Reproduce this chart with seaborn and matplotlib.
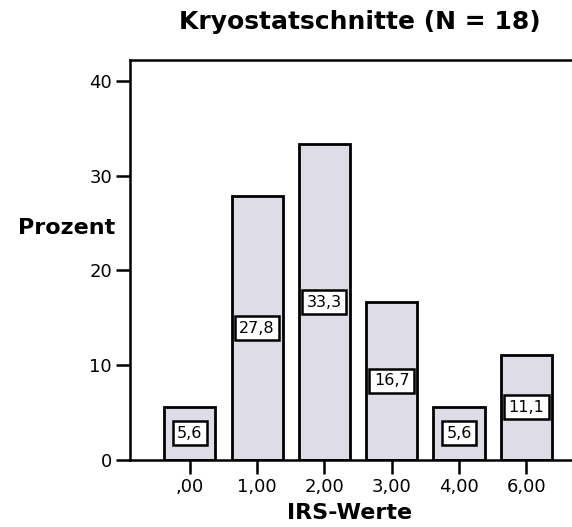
import matplotlib
matplotlib.use("Agg")
import matplotlib.pyplot as plt
import seaborn as sns
import pandas as pd

categories = [",00", "1,00", "2,00", "3,00", "4,00", "6,00"]
percent = [5.6, 27.8, 33.3, 16.7, 5.6, 11.1]
labels = ["5,6", "27,8", "33,3", "16,7", "5,6", "11,1"]
yticks = [0, 10, 20, 30, 40]

sns.set_theme(style="white")
plt.rcParams['font.family'] = ['DejaVu Sans']
plt.rcParams['text.color'] = 'black'
plt.rcParams['axes.labelcolor'] = 'black'
plt.rcParams['xtick.color'] = 'black'
plt.rcParams['ytick.color'] = 'black'

df = pd.DataFrame({"IRS": categories, "Prozent": percent})

fig = plt.figure(figsize=(5.72, 5.27), dpi=100)
ax = fig.add_axes([130/572, 1 - 460/527, 1 - 130/572, (460 - 60)/527])

sns.barplot(data=df, x="IRS", y="Prozent", ax=ax, color="#dddce7",
            saturation=1, width=0.76, edgecolor="black", linewidth=2)

for i, (v, t) in enumerate(zip(percent, labels)):
    ax.text(i, v / 2, t, ha="center", va="center", fontsize=11.5,
            bbox=dict(boxstyle="square,pad=0.28", facecolor="white",
                      edgecolor="black", linewidth=1.8))

ax.set_ylim(0, 42.2)
ax.set_xlim(-0.89, 5.68)
ax.set_yticks(yticks)
ax.set_yticklabels([str(y) for y in yticks])
ax.tick_params(axis="both", which="both", length=10, width=1.8, color="black",
               direction="out", left=True, bottom=True, pad=3, labelsize=13)
ax.tick_params(axis="x", pad=3)
for s in ["left", "top", "bottom"]:
    ax.spines[s].set_visible(True)
    ax.spines[s].set_color("black")
    ax.spines[s].set_linewidth(1.8)
ax.spines["right"].set_visible(False)

ax.set_xlabel("IRS-Werte", fontsize=16, fontweight="bold")
ax.xaxis.set_label_coords((350 - 130) / 442, (460 - 503) / 400)
ax.set_ylabel("Prozent", fontsize=16, fontweight="bold", rotation=0,
              ha="center", va="center")
ax.yaxis.set_label_coords((67 - 130) / 442, (460 - 228) / 400)
fig.text(360 / 572, 1 - 22 / 527, "Kryostatschnitte (N = 18)",
         ha="center", va="center", fontsize=18, fontweight="bold")

fig.savefig("out.png", dpi=100)
